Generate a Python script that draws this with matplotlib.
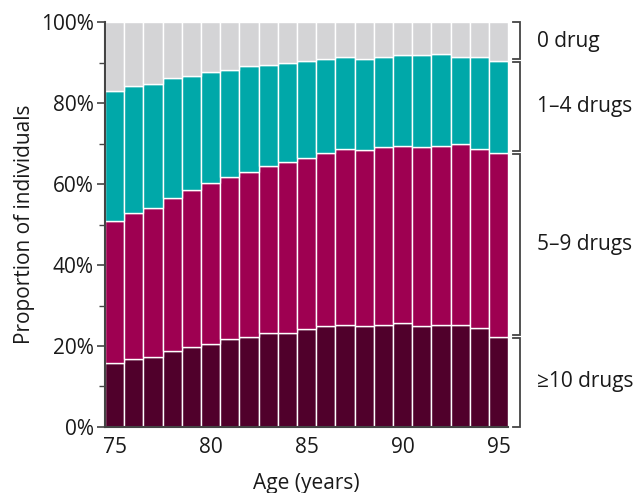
import numpy as np
import matplotlib.pyplot as plt
from matplotlib.transforms import blended_transform_factory

plt.rcParams['font.family'] = ['Open Sans', 'DejaVu Sans']

ages = list(range(75, 96))
# cumulative tops (%) of each category, bottom to top
ge10 = [15.9, 16.9, 17.4, 18.8, 19.8, 20.5, 21.8, 22.2, 23.2, 23.3, 24.3,
        24.9, 25.3, 25.0, 25.2, 25.7, 24.9, 25.3, 25.3, 24.5, 22.3]
top_5_9 = [50.9, 52.9, 54.2, 56.5, 58.6, 60.3, 61.7, 63.1, 64.4, 65.5, 66.5,
           67.6, 68.6, 68.3, 69.2, 69.4, 69.1, 69.5, 69.9, 68.7, 67.8]
top_1_4 = [83.1, 84.2, 84.8, 86.2, 86.8, 87.6, 88.3, 89.1, 89.4, 90.0, 90.5,
           91.0, 91.3, 91.0, 91.3, 91.8, 91.9, 92.1, 91.5, 91.4, 90.5]

labels = ['\u226510 drugs', '5\u20139 drugs', '1\u20134 drugs', '0 drug']
colors = ['#50002B', '#9E0051', '#00A8A9', '#D4D4D6']

ge10 = np.array(ge10)
t59 = np.array(top_5_9)
t14 = np.array(top_1_4)
segments = [ge10, t59 - ge10, t14 - t59, 100 - t14]

FS = 15
TXT = '#1a1a1a'

fig = plt.figure(figsize=(6.36, 4.93), dpi=100)
ax = fig.add_axes([0.165, 0.134, 0.634, 0.821])

bottom = np.zeros(len(ages))
for seg, c in zip(segments, colors):
    ax.bar(ages, seg, bottom=bottom, width=1.0, color=c,
           edgecolor='white', linewidth=1.0)
    bottom = bottom + seg

ax.set_xlim(74.5, 95.5)
ax.set_ylim(0, 100)
ax.set_xticks([75, 80, 85, 90, 95])
ax.set_yticks(np.arange(0, 101, 20))
ax.set_yticks(np.arange(10, 100, 20), minor=True)
ax.set_yticklabels([f'{v}%' for v in range(0, 101, 20)])
ax.tick_params(axis='x', length=0, pad=7, labelsize=FS, colors=TXT)
ax.tick_params(axis='y', which='major', length=6, width=1.2, color='#444444',
               labelsize=FS, labelcolor=TXT, pad=2)
ax.tick_params(axis='y', which='minor', length=4, width=1.0, color='#444444')
for s in ['top', 'right']:
    ax.spines[s].set_visible(False)
for s in ['left', 'bottom']:
    ax.spines[s].set_color('#444444')
    ax.spines[s].set_linewidth(1.5)

ax.set_xlabel('Age (years)', fontsize=FS, color=TXT, labelpad=11)
ax.set_ylabel('Proportion of individuals', fontsize=FS, color=TXT,
              labelpad=4)

# brackets on the right, spanning the last bar's segments
trans = blended_transform_factory(ax.transAxes, ax.transData)
edges = [0, ge10[-1], t59[-1], t14[-1], 100]
gap = 0.35
xv, xt, xl = 1.030, 1.013, 1.072
for i, lab in enumerate(labels):
    lo = edges[i] + (gap if i > 0 else 0)
    hi = edges[i + 1] - (gap if i < 3 else 0)
    ax.plot([xt, xv, xv, xt], [lo, lo, hi, hi], transform=trans,
            color='#444444', lw=1.3, clip_on=False, solid_joinstyle='miter')
    ax.text(xl, (edges[i] + edges[i + 1]) / 2, lab, transform=trans,
            ha='left', va='center', fontsize=FS, color=TXT)

fig.savefig('out.png', dpi=100)
